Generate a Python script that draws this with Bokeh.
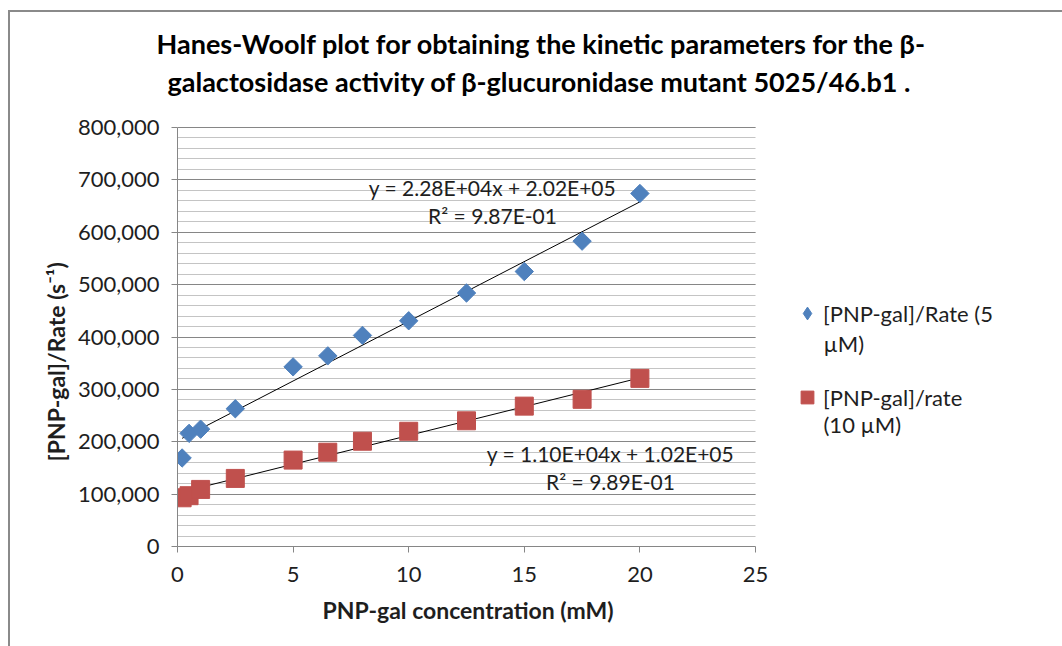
import math
from bokeh.plotting import figure
from bokeh.models import (Range1d, SingleIntervalTicker, NumeralTickFormatter, Label,
                          Legend, LegendItem, Title)
from bokeh.embed import file_html
from bokeh.resources import INLINE

# ---- data ----
conc = [0.2, 0.5, 1.0, 2.5, 5.0, 6.5, 8.0, 10.0, 12.5, 15.0, 17.5, 20.0]
rate5 = [169000, 216000, 224000, 263000, 343000, 364000, 403000, 431000, 484000, 525000, 583000, 674000]
rate10 = [93000, 97000, 109000, 130000, 165000, 180000, 201000, 220000, 240000, 268000, 281000, 321000]
fit5 = (2.28e4, 2.02e5)
fit10 = (1.10e4, 1.02e5)
eq5 = ["y = 2.28E+04x + 2.02E+05", "R² = 9.87E-01"]
eq10 = ["y = 1.10E+04x + 1.02E+05", "R² = 9.89E-01"]
series_line1 = ["[PNP-gal]/Rate (5", "[PNP-gal]/rate"]
series_line2 = ["µM)", "(10 µM)"]
title_lines = ["Hanes-Woolf plot for obtaining the kinetic parameters for the β-",
               "galactosidase activity of β-glucuronidase mutant 5025/46.b1 ."]
x_title = "PNP-gal concentration (mM)"
y_title = "[PNP-gal]/Rate (s⁻¹)"
x_limits = (0, 25)
y_limits = (0, 800000)

FONT = "Lato"
TXT = "#1e1e1e"
BLUE = "#4F81BD"
RED = "#C0504D"

W, H = 1062, 646
FL, FB, FT = 177, 546, 100  # frame left / bottom / top (pixels)
AX_R, AX_T = 755, 127       # pixel ends of the axes (x=25, y=800000)
SX = (AX_R - FL) / x_limits[1]
SY = (FB - AX_T) / y_limits[1]

def dx(px):
    return (px - FL) / SX

def dy(py):
    return (FB - py) / SY

border_css = ("linear-gradient(#8a8a8a,#8a8a8a) 8px 10px / 2px 100% no-repeat, "
              "linear-gradient(#8a8a8a,#8a8a8a) 8px 10px / 100% 2px no-repeat, white")

p = figure(width=W, height=H, output_backend="svg", toolbar_location=None, title=None,
           x_range=Range1d(0, dx(W)), y_range=Range1d(0, dy(FT)),
           min_border_left=FL, min_border_right=0, min_border_top=FT,
           min_border_bottom=H - FB)
p.styles = {"background": border_css}
p.outline_line_color = None
p.background_fill_color = None
p.border_fill_color = None

# axes
p.xaxis.ticker = SingleIntervalTicker(interval=5, num_minor_ticks=0)
p.yaxis.ticker = SingleIntervalTicker(interval=100000, num_minor_ticks=5)
p.yaxis.formatter = NumeralTickFormatter(format="0,0")
p.xaxis.bounds = x_limits
p.yaxis.bounds = y_limits
for ax in (p.xaxis, p.yaxis):
    ax.axis_line_color = "#868686"
    ax.major_tick_line_color = "#868686"
    ax.major_tick_out = 6
    ax.major_tick_in = 0
    ax.minor_tick_out = 0
    ax.minor_tick_in = 0
    ax.major_label_text_font = FONT
    ax.major_label_text_font_size = "22px"
    ax.major_label_text_color = TXT
p.xaxis.major_label_standoff = 14
p.yaxis.major_label_standoff = 12

# axis titles as side-panel titles (placed off-centre like the reference)
p.add_layout(Title(text=x_title, align="left", offset=145, standoff=18,
                   text_font=FONT, text_font_style="bold", text_font_size="23px",
                   text_color=TXT), "below")
p.add_layout(Title(text=y_title, align="left", offset=85, standoff=10,
                   text_font=FONT, text_font_style="bold", text_font_size="23px",
                   text_color=TXT), "left")

# chart title: two lines above the plot (first added sits nearest the plot)
p.add_layout(Title(text=title_lines[1], align="left", offset=-10, standoff=5,
                   text_font=FONT, text_font_style="bold", text_font_size="27px",
                   text_color="black"), "above")
p.add_layout(Title(text=title_lines[0], align="left", offset=-21, standoff=1,
                   text_font=FONT, text_font_style="bold", text_font_size="27px",
                   text_color="black"), "above")

p.xgrid.grid_line_color = None
p.ygrid.bounds = y_limits
p.ygrid.cross_bounds = x_limits
p.ygrid.grid_line_color = "#868686"
p.ygrid.minor_grid_line_color = "#C4C4C4"

# trendlines
xs = [min(conc), max(conc)]
p.line(xs, [fit5[0] * x + fit5[1] for x in xs], line_color="black", line_width=1)
p.line(xs, [fit10[0] * x + fit10[1] for x in xs], line_color="black", line_width=1)

r1 = p.scatter(conc, rate5, marker="square", angle=math.pi / 4, size=13,
               fill_color=BLUE, line_color=BLUE)
r2 = p.scatter(conc, rate10, marker="square", size=18, fill_color=RED, line_color=RED)
# legend swatch for the diamond series (draws nothing in the plot)
r1_key = p.scatter([float("nan")], [float("nan")], marker="diamond",
                   fill_color=BLUE, line_color=BLUE)

legend = Legend(items=[LegendItem(label=series_line1[0], renderers=[r1_key]),
                       LegendItem(label=series_line1[1], renderers=[r2])],
                location=(614, 133), border_line_color=None, background_fill_alpha=0,
                padding=0, margin=0, spacing=52, glyph_width=32, glyph_height=32,
                label_standoff=0, label_text_font=FONT, label_text_font_size="22px",
                label_text_color=TXT)
p.add_layout(legend, "center")
for i, t in enumerate(series_line2):
    p.add_layout(Label(x=dx(823), y=dy(343 + 81 * i), text=t, text_align="left",
                       text_baseline="middle", text_font=FONT, text_font_size="22px",
                       text_color=TXT))

# equations
for i, t in enumerate(eq5):
    p.add_layout(Label(x=dx(492), y=dy(187 + 28 * i), text=t, text_align="center",
                       text_baseline="middle", text_font=FONT, text_font_size="21px",
                       text_color=TXT))
for i, t in enumerate(eq10):
    p.add_layout(Label(x=dx(610), y=dy(453 + 28 * i), text=t, text_align="center",
                       text_baseline="middle", text_font=FONT, text_font_size="21px",
                       text_color=TXT))

open("out.html", "w").write(file_html(p, INLINE))
